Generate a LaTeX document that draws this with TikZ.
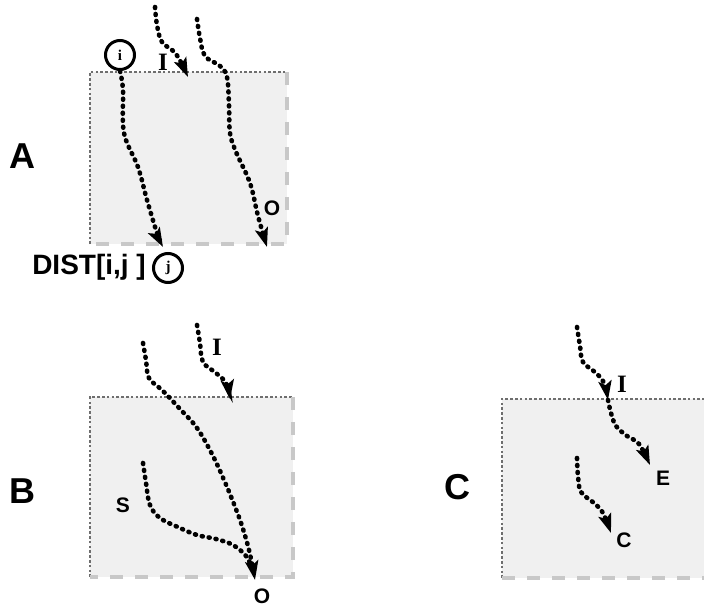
\documentclass[tikz,border=0pt]{standalone}
\usepackage{fontspec}
\setmainfont{Liberation Sans}
\newfontfamily\serifbf{Liberation Serif}
\usetikzlibrary{arrows.meta}
\definecolor{boxfill}{HTML}{F0F0F0}
\definecolor{edgedark}{HTML}{6E6E6E}
\definecolor{edgelight}{HTML}{C8C8C8}
\tikzset{
  flow/.style={line width=4.6pt, line cap=round, dash pattern=on 1pt off 6pt,
               -{Stealth[length=19pt,width=13pt,inset=4pt]}},
  flownotip/.style={line width=4.6pt, line cap=round, dash pattern=on 1pt off 6pt},
  edgetl/.style={draw=edgedark, line width=2.8pt, dash pattern=on 2.6pt off 2.2pt},
  edgebr/.style={draw=edgelight, line width=3.6pt, dash pattern=on 13pt off 12pt},
  panel/.style={font=\fontsize{36}{36}\selectfont\bfseries},
  lab/.style={font=\fontsize{21}{21}\selectfont\bfseries, inner sep=0pt},
  serlab/.style={font=\fontsize{25}{25}\selectfont\serifbf\bfseries, inner sep=0pt},
  idx/.style={draw, circle, line width=3pt, minimum size=29pt, inner sep=0pt,
              font=\fontsize{15}{15}\selectfont\serifbf\bfseries},
}
\begin{document}
\begin{tikzpicture}[x=1pt,y=-1pt]
\useasboundingbox (0,0) rectangle (704,608);

% ---------- Panel A ----------
\fill[boxfill] (90,72) rectangle (287,244);
\draw[edgetl] (90,244) -- (90,72) -- (287,72);
\draw[edgebr] (287,72) -- (287,244) -- (90,244);
\node[panel] (pA) at (22,156) {A};
\node[idx] (ni) at (120,55) {i};
\node[idx] (nj) at (168,268) {j};
\node[font=\fontsize{28}{28}\selectfont\bfseries, anchor=east, inner sep=0pt] (dist) at (146,267) {DIST[i,j ]};
\node[serlab] (IA) at (163,62) {I};
\node[lab] (OA) at (272,208) {O};
\coordinate (a1s) at (155,7);
\coordinate (a1e) at (188,77);
\coordinate (a2s) at (197,19);
\coordinate (a2e) at (267,247);
\coordinate (a3e) at (163,247);
\draw[flow] plot[smooth, tension=0.6] coordinates {(a1s) (157,25) (162,42) (176,54) (188,77)};
\draw[flow] plot[smooth, tension=0.6] coordinates {(a2s) (200,38) (205,56) (220,66) (227,77) (229,105) (230,133) (236,152) (250,183) (258,216) (a2e)};
\draw[flow] plot[smooth, tension=0.6] coordinates {(ni.south) (123,90) (124,133) (138,167) (147,200) (157,233) (a3e)};

% ---------- Panel B ----------
\fill[boxfill] (90,397) rectangle (293,577);
\draw[edgetl] (90,577) -- (90,397) -- (293,397);
\draw[edgebr] (293,397) -- (293,577) -- (90,577);
\node[panel] (pB) at (22,491) {B};
\node[serlab] (IB) at (217,347) {I};
\node[lab] (SB) at (123,505) {S};
\node[lab] (OB) at (262,596) {O};
\coordinate (b1s) at (197,325);
\coordinate (b1e) at (230,399);
\coordinate (b2s) at (143,343);
\coordinate (b3s) at (143,463);
\coordinate (bO) at (255,580);
\draw[flow] plot[smooth, tension=0.6] coordinates {(b1s) (200,343) (203,362) (216,373) (226,383) (b1e)};
\draw[flow] plot[smooth, tension=0.6] coordinates {(b2s) (146,360) (149,378) (163,391) (180,409) (197,428) (213,456) (227,487) (240,520) (249,550) (bO)};
\draw[flownotip] plot[smooth, tension=0.6] coordinates {(b3s) (146,483) (150,505) (160,518) (180,528) (197,535) (216,539) (233,545) (246,556) (253,570)};

% ---------- Panel C ----------
\fill[boxfill] (502,399) rectangle (704,578);
\draw[edgetl] (502,578) -- (502,399) -- (704,399);
\draw[edgebr] (502,578) -- (704,578);
\node[panel] (pC) at (457,487) {C};
\node[serlab] (IC) at (622,384) {I};
\node[lab] (EC) at (663,478) {E};
\node[lab] (CC) at (624,540) {C};
\coordinate (c1s) at (577,327);
\coordinate (c1e) at (608,400);
\coordinate (c2e) at (650,465);
\coordinate (c3s) at (577,458);
\coordinate (c3e) at (611,533);
\draw[flow] plot[smooth, tension=0.6] coordinates {(c1s) (580,346) (583,362) (596,373) (604,383) (c1e)};
\draw[flow] plot[smooth, tension=0.6] coordinates {(c1e) (611,413) (616,426) (627,436) (639,444) (c2e)};
\draw[flow] plot[smooth, tension=0.6] coordinates {(c3s) (578,476) (581,492) (594,503) (603,513) (c3e)};
\end{tikzpicture}
\end{document}
